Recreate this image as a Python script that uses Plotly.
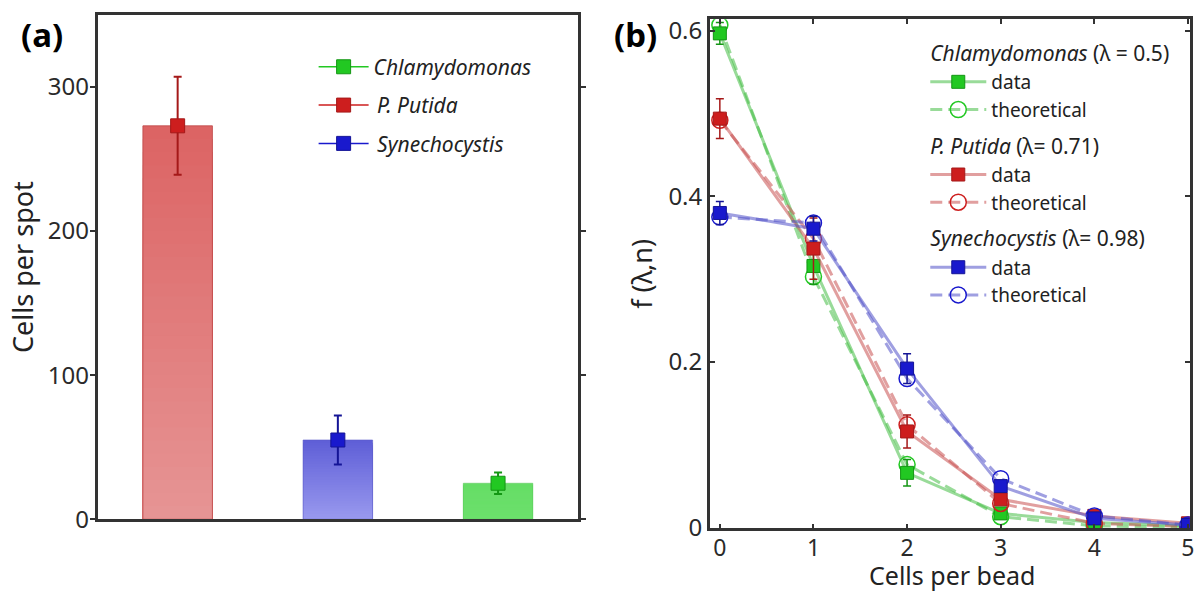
import plotly.graph_objects as go

# ---------------- data ----------------
# panel (a): cells per spot
bar_species = ["P. Putida", "Synechocystis", "Chlamydomonas"]
bar_pos = [0, 1, 2]
cells_per_spot = [273, 55, 25]
cells_per_spot_err = [34, 17, 7.5]

# panel (b): distribution of cells per bead
n_cells = [0, 1, 2, 3, 4, 5]
chl_data = [0.597, 0.316, 0.066, 0.017, 0.006, 0.002]
chl_err = [0.013, 0.022, 0.016, 0.004, 0.002, 0.001]
chl_theory = [0.607, 0.303, 0.076, 0.013, 0.002, 0.000]
put_data = [0.494, 0.337, 0.116, 0.034, 0.014, 0.005]
put_err = [0.024, 0.037, 0.020, 0.006, 0.003, 0.002]
put_theory = [0.492, 0.349, 0.124, 0.029, 0.005, 0.001]
syn_data = [0.380, 0.361, 0.192, 0.050, 0.011, 0.003]
syn_err = [0.014, 0.015, 0.018, 0.006, 0.003, 0.001]
syn_theory = [0.375, 0.368, 0.180, 0.059, 0.014, 0.003]
lambdas = {"Chlamydomonas": "0.5", "P. Putida": "0.71", "Synechocystis": "0.98"}

# ---------------- styles ----------------
FONT = "Noto Sans"
TXT = "#222222"
col = {
    "Chlamydomonas": dict(m="rgb(34,200,34)", d="rgb(20,150,20)", l="rgba(70,190,70,0.55)",
                          top=(102, 221, 102), bot=(108, 224, 108)),
    "P. Putida": dict(m="rgb(205,30,30)", d="rgb(165,25,25)", l="rgba(200,80,80,0.55)",
                      top=(220, 100, 100), bot=(230, 148, 148)),
    "Synechocystis": dict(m="rgb(25,25,205)", d="rgb(20,20,150)", l="rgba(80,80,200,0.55)",
                          top=(95, 95, 215), bot=(152, 152, 238)),
}

fig = go.Figure()

# ----- panel (a): gradient bars built from stacked overlay layers -----
N = 30
for k in range(N):
    frac = (N - k) / N
    t = k / (N - 1)
    colors = []
    for s in bar_species:
        a, b = col[s]["top"], col[s]["bot"]
        c = tuple(round(a[j] + (b[j] - a[j]) * t) for j in range(3))
        colors.append("rgb(%d,%d,%d)" % c)
    fig.add_trace(go.Bar(x=bar_pos, y=[v * frac for v in cells_per_spot], width=0.434,
                         marker=dict(color=colors, line=dict(width=0)),
                         showlegend=False, hoverinfo="skip", xaxis="x", yaxis="y"))
fig.add_trace(go.Bar(x=bar_pos, y=cells_per_spot, width=0.434,
                     marker=dict(color="rgba(0,0,0,0)",
                                 line=dict(width=1, color=["rgba(190,70,70,0.8)", "rgba(90,90,200,0.6)",
                                                           "rgba(90,200,90,0.5)"])),
                     showlegend=False, hoverinfo="skip", xaxis="x", yaxis="y"))

legend_a_order = ["Chlamydomonas", "P. Putida", "Synechocystis"]
for rank, s in enumerate(legend_a_order):
    i = bar_species.index(s)
    name = s if s == "Chlamydomonas" else "\u2009" + s
    fig.add_trace(go.Scatter(
        x=[bar_pos[i]], y=[cells_per_spot[i]], mode="lines+markers",
        name="<i>%s</i>" % name, legend="legend2", legendgroup="a%d" % rank, legendrank=rank + 1,
        line=dict(color=col[s]["m"], width=1.5),
        marker=dict(symbol="square", size=14, color=col[s]["m"], line=dict(width=1, color=col[s]["d"])),
        error_y=dict(type="data", array=[cells_per_spot_err[i]], color=col[s]["d"], thickness=2, width=4),
        xaxis="x", yaxis="y"))

# ----- panel (b) -----
series = [
    ("Chlamydomonas", chl_data, chl_err, chl_theory, "g1"),
    ("P. Putida", put_data, put_err, put_theory, "g2"),
    ("Synechocystis", syn_data, syn_err, syn_theory, "g3"),
]
for gi, (s, dat, err, th, grp) in enumerate(series):
    title = "<i>%s</i> (\u03bb = %s)" % (s, lambdas[s]) if s == "Chlamydomonas" else \
        "<i>%s</i> (\u03bb= %s)" % (s, lambdas[s])
    fig.add_trace(go.Scatter(
        x=n_cells, y=th, mode="lines+markers", name="theoretical",
        legendgroup=grp, legendrank=gi * 2 + 2,
        line=dict(color=col[s]["l"], width=3, dash="12px,6px"),
        marker=dict(symbol="circle-open", size=16, color=col[s]["m"], line=dict(width=1.5)),
        xaxis="x2", yaxis="y2"))
    fig.add_trace(go.Scatter(
        x=n_cells, y=dat, mode="lines+markers", name="data",
        legendgroup=grp, legendrank=gi * 2 + 1,
        legendgrouptitle=dict(text=title, font=dict(size=21, family=FONT, color=TXT)),
        line=dict(color=col[s]["l"], width=3),
        marker=dict(symbol="square", size=13, color=col[s]["m"], line=dict(width=1, color=col[s]["d"])),
        error_y=dict(type="data", array=err, color=col[s]["d"], thickness=1.5, width=4),
        xaxis="x2", yaxis="y2"))

frame = dict(showline=True, linewidth=2.5, linecolor="#333333", mirror="ticks", zeroline=False,
             showgrid=False, tickfont=dict(size=24, family=FONT, color="#2a2a2a"), automargin=False)

fig.update_layout(
    width=1197, height=594, margin=dict(l=0, r=0, t=0, b=0, autoexpand=False),
    paper_bgcolor="white", plot_bgcolor="white", barmode="overlay",
    font=dict(family=FONT, color=TXT),
    xaxis=dict(domain=[0.0815, 0.483], range=[-0.5, 2.5], showticklabels=False, ticks="",
               showline=True, linewidth=2.5, linecolor="#333333", mirror=True, zeroline=False,
               showgrid=False, anchor="y", automargin=False),
    yaxis=dict(frame, domain=[0.1258, 0.975], range=[0, 350], tickvals=[0, 100, 200, 300],
               ticks="outside", ticklen=5, tickwidth=2, tickcolor="#333333", anchor="x",
               ticklabelstandoff=-4,
               title=dict(text="Cells per spot", font=dict(size=27, family=FONT, color=TXT), standoff=7)),
    xaxis2=dict(frame, domain=[0.593, 0.994], range=[-0.107, 5.02], tickvals=n_cells,
                tickfont=dict(size=23, family=FONT, color="#2a2a2a"), ticklabelstandoff=-3,
                ticks="inside", ticklen=5, tickwidth=2, tickcolor="#333333", anchor="y2"),
    yaxis2=dict(frame, domain=[0.1106, 0.9675], range=[-0.001, 0.614], tickvals=[0, 0.2, 0.4, 0.6],
                ticktext=["0", "0.2", "0.4", "0.6"],
                ticks="inside", ticklen=5, tickwidth=2, tickcolor="#333333", anchor="x2",
                title=dict(text="f (\u03bb,n)", font=dict(size=27, family=FONT, color=TXT), standoff=8)),
    legend=dict(x=0.773, y=0.945, xanchor="left", yanchor="top", bgcolor="rgba(0,0,0,0)",
                font=dict(size=19, family=FONT, color=TXT), traceorder="grouped",
                tracegroupgap=7, itemwidth=56),
    legend2=dict(x=0.262, y=0.9215, xanchor="left", yanchor="top", bgcolor="rgba(0,0,0,0)",
                 font=dict(size=21, family=FONT, color=TXT), traceorder="grouped",
                 tracegroupgap=8, itemwidth=50),
    annotations=[
        dict(text="<b>(a)</b>", x=0.035, y=0.942, xref="paper", yref="paper", showarrow=False,
             xanchor="center", yanchor="middle", font=dict(size=33, family=FONT, color="black")),
        dict(text="<b>(b)</b>", x=0.5305, y=0.942, xref="paper", yref="paper", showarrow=False,
             xanchor="center", yanchor="middle", font=dict(size=33, family=FONT, color="black")),
        dict(text="Cells per bead", x=0.795, y=0.0, xref="paper", yref="paper", showarrow=False,
             xanchor="center", yanchor="bottom", font=dict(size=25, family=FONT, color=TXT)),
    ],
)

fig.write_html("out.html", config={"displayModeBar": False},
               post_script="document.body.style.margin='0';document.body.style.overflow='hidden';")
